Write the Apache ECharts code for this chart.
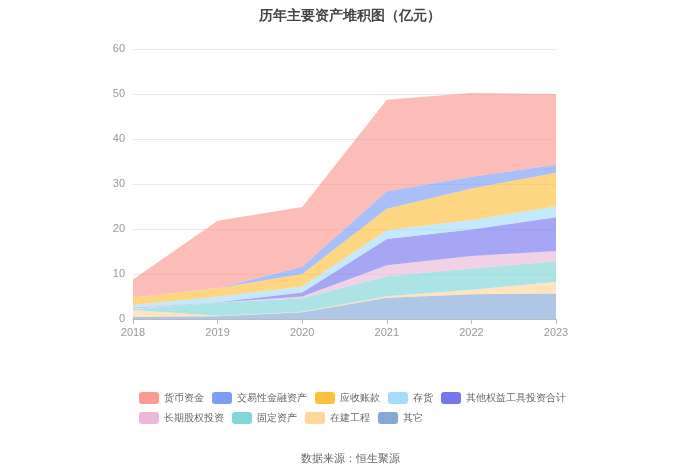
<!DOCTYPE html>
<html>
<head>
<meta charset="utf-8">
<script src="https://cdn.jsdelivr.net/npm/echarts@6/dist/echarts.min.js"></script>
<style>
  html, body { margin: 0; padding: 0; background: #fff; }
  #main { width: 700px; height: 474px; }
</style>
</head>
<body>
<div id="main"></div>
<script>
var years = ['2018', '2019', '2020', '2021', '2022', '2023'];

// legend order (top of stack first)
var names = ['货币资金', '交易性金融资产', '应收账款', '存货', '其他权益工具投资合计',
  '长期股权投资', '固定资产', '在建工程', '其它'];

var cash = [4.0, 15.0, 13.3, 20.3, 18.6, 15.7];
var tradingAssets = [0, 0, 1.6, 3.9, 2.6, 1.8];
var receivables = [1.7, 1.9, 2.8, 4.8, 7.0, 7.5];
var inventory = [0.6, 1.2, 1.3, 1.9, 2.1, 2.4];
var otherEquity = [0.1, 0.1, 0.9, 5.85, 5.9, 7.5];
var longEquity = [0.2, 0.05, 0.4, 2.45, 2.8, 2.25];
var fixedAssets = [0.2, 2.9, 3.0, 4.45, 4.7, 4.6];
var construction = [1.5, 0.1, 0.1, 0.35, 1.0, 2.6];
var others = [0.5, 0.6, 1.5, 4.7, 5.5, 5.65];

var colors = ['#fa9a92', '#7b9cf7', '#fec03d', '#a5dcfa', '#7676ee',
  '#e8b8d8', '#80d6d8', '#ffd69b', '#85a8d8'];
var values = [cash, tradingAssets, receivables, inventory, otherEquity,
  longEquity, fixedAssets, construction, others];

var chart = echarts.init(document.getElementById('main'));

// stack from the bottom: 其它 first
var series = [];
for (var i = names.length - 1; i >= 0; i--) {
  series.push({
    name: names[i],
    type: 'line',
    stack: 'total',
    symbol: 'none',
    lineStyle: { width: 0 },
    itemStyle: { color: colors[i] },
    areaStyle: { color: colors[i], opacity: 0.65 },
    data: values[i]
  });
}

var option = {
  title: [{
    text: '历年主要资产堆积图（亿元）',
    left: 'center',
    top: 4,
    textStyle: { fontSize: 14, fontWeight: 'bold', color: '#444' }
  }, {
    text: '数据来源：恒生聚源',
    left: 'center',
    top: 448,
    textStyle: { fontSize: 11, fontWeight: 'normal', color: '#666' }
  }],
  legend: {
    data: names,
    icon: 'roundRect',
    left: 134,
    top: 387,
    width: 440,
    itemWidth: 20,
    itemHeight: 12,
    itemGap: 8,
    textStyle: { fontSize: 10, color: '#666' }
  },
  grid: {
    left: 133,
    right: 144,
    top: 49,
    bottom: 155
  },
  xAxis: {
    type: 'category',
    boundaryGap: false,
    data: years,
    axisLine: { lineStyle: { color: '#bbb' } },
    axisTick: { lineStyle: { color: '#bbb' } },
    axisLabel: { color: '#999', fontSize: 11 }
  },
  yAxis: {
    type: 'value',
    min: 0,
    max: 60,
    interval: 10,
    axisLine: { show: false },
    axisTick: { show: false },
    axisLabel: { color: '#999', fontSize: 11 },
    splitLine: { lineStyle: { color: '#e6e9f4' } }
  },
  series: series
};

chart.setOption(option);
</script>
</body>
</html>
